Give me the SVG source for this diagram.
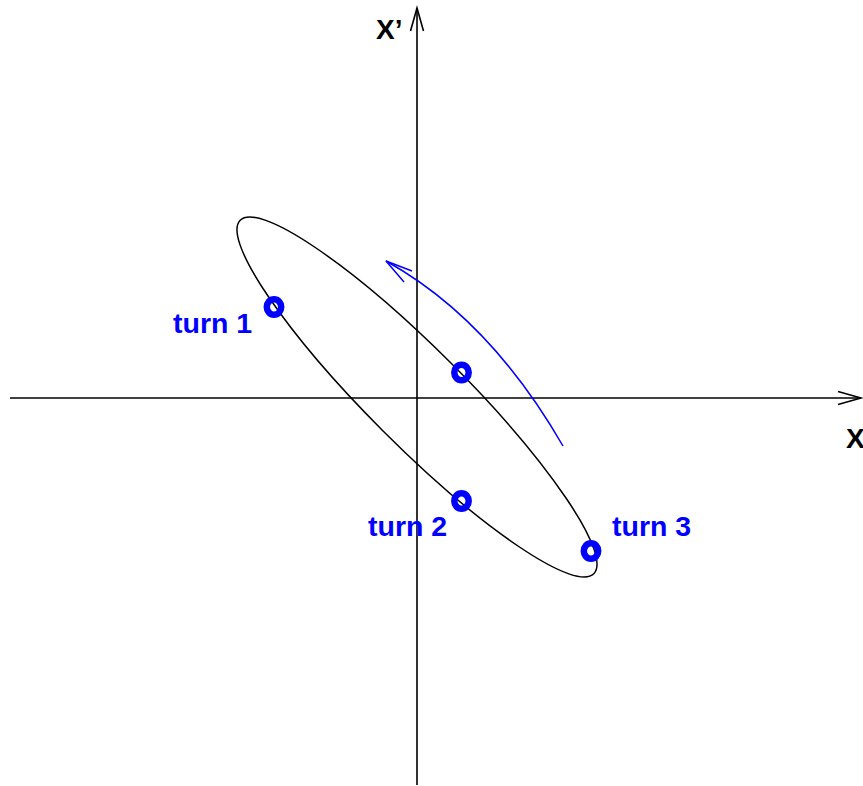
<svg xmlns="http://www.w3.org/2000/svg" width="863" height="786" viewBox="0 0 863 786">
<style>
.axis{stroke:#000;stroke-width:1.6;fill:none}
.lbl{font-family:"Liberation Sans",Arial,sans-serif;font-weight:bold}
.blue{fill:#0000ff}
.pt{fill:none;stroke:#0000ff;stroke-width:6.5}
</style>
<defs>
<marker id="ah" markerUnits="userSpaceOnUse" markerWidth="30" markerHeight="20" viewBox="-25 -10 30 20" refX="0" refY="0" orient="auto">
<path d="M-23,-6.5 L0,0 L-23,6.5" fill="none" stroke="#000" stroke-width="1.6"/>
</marker>
</defs>
<rect width="863" height="786" fill="#fff"/>
<g id="connectors">
<line class="axis" x1="10" y1="398" x2="861" y2="398" marker-end="url(#ah)"/>
<line class="axis" x1="417" y1="785" x2="417" y2="8" marker-end="url(#ah)"/>
<path d="M563,446 Q489.5,318.5 386,261" fill="none" stroke="#0000ff" stroke-width="1.5"/>
<polyline points="412,271 386,261 404,282" fill="none" stroke="#0000ff" stroke-width="1.5"/>
</g>
<g id="ellipse">
<ellipse cx="417" cy="397" rx="250" ry="48" transform="rotate(45 417 397)" fill="none" stroke="#000" stroke-width="1.5"/>
</g>
<g id="axis-labels">
<text class="lbl" x="376" y="39" font-size="28">X’</text>
<text class="lbl" x="846" y="448" font-size="28">X</text>
</g>
<g id="turn1">
<ellipse class="pt" cx="274" cy="307" rx="7.2" ry="7.8"/>
<text class="lbl blue" x="173" y="333" font-size="28.5">turn 1</text>
</g>
<g id="center-point">
<ellipse class="pt" cx="461.5" cy="372.5" rx="7.2" ry="7.8"/>
</g>
<g id="turn2">
<ellipse class="pt" cx="461.5" cy="501" rx="7.2" ry="7.8"/>
<text class="lbl blue" x="368" y="536" font-size="28.5">turn 2</text>
</g>
<g id="turn3">
<ellipse class="pt" cx="591" cy="551" rx="7.2" ry="7.8"/>
<text class="lbl blue" x="612" y="536" font-size="28.5">turn 3</text>
</g>
</svg>
